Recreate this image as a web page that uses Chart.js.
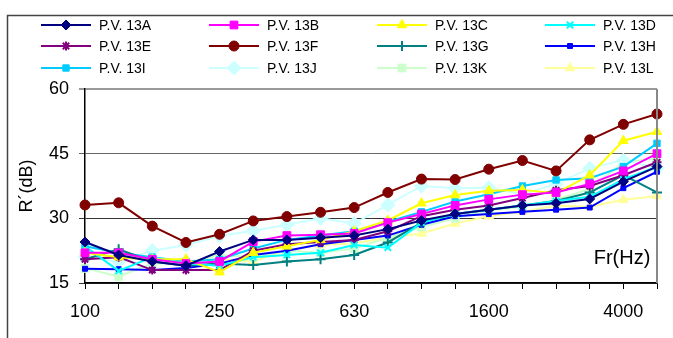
<!DOCTYPE html>
<html>
<head>
<meta charset="utf-8">
<script src="https://cdn.jsdelivr.net/npm/chart.js@4/dist/chart.umd.min.js"></script>
<style>
  html, body { margin: 0; padding: 0; background: #fff; }
  canvas { display: block; }
</style>
</head>
<body>
<canvas id="c" width="673" height="338"></canvas>
<script>
// ---- data ----
const categories = ['100','125','160','200','250','315','400','500','630','800','1000','1250','1600','2000','2500','3150','4000','5000'];
const shownTicks = ['100','250','630','1600','4000'];
const yTicks = [15, 30, 45, 60];
const seriesNames = ['P.V. 13A','P.V. 13B','P.V. 13C','P.V. 13D','P.V. 13E','P.V. 13F','P.V. 13G','P.V. 13H','P.V. 13I','P.V. 13J','P.V. 13K','P.V. 13L'];

const pv13A = [24.5, 21.5, 20.0, 19.0, 22.3, 25.0, 25.0, 25.5, 26.0, 27.5, 29.5, 31.0, 32.0, 33.0, 33.5, 34.5, 38.5, 42.0];
const pv13B = [22.0, 22.0, 20.5, 19.5, 20.0, 24.6, 26.0, 26.2, 26.5, 29.0, 31.0, 33.0, 34.4, 35.5, 36.0, 38.0, 41.0, 45.0];
const pv13C = [22.0, 21.0, 20.5, 20.5, 17.5, 22.0, 23.5, 25.0, 27.0, 29.5, 33.5, 35.4, 36.4, 36.6, 35.8, 40.0, 48.0, 50.1];
const pv13D = [23.5, 17.8, 21.0, 19.5, 19.0, 21.0, 21.5, 22.0, 23.8, 23.2, 29.0, 31.0, 32.0, 33.0, 34.0, 35.0, 39.0, 42.0];
const pv13E = [20.5, 21.0, 18.0, 18.0, 18.0, 22.5, 24.0, 24.5, 25.0, 27.0, 30.5, 32.0, 33.0, 34.7, 36.5, 37.5, 40.0, 43.0];
const pv13F = [33.1, 33.6, 28.2, 24.4, 26.3, 29.4, 30.4, 31.4, 32.5, 36.0, 39.1, 39.0, 41.4, 43.4, 41.0, 48.2, 51.8, 54.2];
const pv13G = [20.5, 22.8, 20.0, 19.0, 19.5, 19.2, 20.0, 20.5, 21.5, 24.4, 29.0, 31.0, 32.0, 33.0, 34.0, 36.0, 40.0, 36.0];
const pv13H = [18.3, 18.2, 18.0, 18.5, 19.5, 21.5, 22.5, 24.0, 25.0, 26.0, 28.5, 30.5, 31.0, 31.5, 32.0, 32.5, 37.0, 40.8];
const pv13I = [23.5, 22.0, 21.0, 20.0, 20.5, 23.0, 25.0, 26.0, 27.0, 29.2, 31.5, 33.9, 35.6, 37.5, 38.9, 39.3, 42.0, 47.4];
const pv13J = [21.0, 20.0, 22.5, 23.8, 25.9, 27.1, 28.5, 30.0, 28.8, 33.1, 37.5, 37.0, 37.1, 35.6, 38.0, 41.6, 43.5, 41.6];
const pv13K = [18.4, 16.5, 19.5, 19.5, 21.5, 21.0, 22.5, 22.0, 23.0, 25.5, 28.0, 30.0, 31.9, 32.7, 34.3, 36.8, 43.0, 43.9];
const pv13L = [22.0, 20.8, 20.5, 20.0, 20.5, 20.0, 22.6, 23.8, 24.2, 25.5, 26.5, 28.8, 30.5, 31.5, 33.0, 32.7, 34.3, 35.2];

const seriesValues = [pv13A, pv13B, pv13C, pv13D, pv13E, pv13F, pv13G, pv13H, pv13I, pv13J, pv13K, pv13L];

// ---- styles ----
const colors = ['#000080','#FF00FF','#FFFF00','#00FFFF','#800080','#800000','#008080','#0000FF','#00CCFF','#CCFFFF','#CCFFCC','#FFFF99'];
const pointStyles = ['rectRot','rect','triangle','crossRot','star','circle','cross','rect','rect','rectRot','rect','triangle'];
const pointRadii = [5, 5.5, 5.5, 4.5, 4.5, 5, 5, 3.5, 4.5, 7, 5.5, 5.5];

const datasets = seriesValues.map((vals, i) => ({
  label: seriesNames[i],
  data: vals,
  borderColor: colors[i],
  backgroundColor: colors[i],
  borderWidth: 2,
  pointStyle: pointStyles[i],
  pointRadius: pointRadii[i],
  pointBorderWidth: (pointStyles[i] === 'crossRot' || pointStyles[i] === 'star' || pointStyles[i] === 'cross') ? 2 : 1,
  pointBorderColor: colors[i],
  pointBackgroundColor: colors[i],
  tension: 0,
  clip: false
}));

const FONT = '"Liberation Sans", Arial, sans-serif';

function drawMarker(ctx, style, r, x, y, color, bw) {
  if (Chart.helpers && Chart.helpers.drawPoint) {
    ctx.save();
    ctx.fillStyle = color; ctx.strokeStyle = color; ctx.lineWidth = bw;
    Chart.helpers.drawPoint(ctx, {pointStyle: style, radius: r, borderWidth: bw, rotation: 0}, x, y);
    ctx.restore();
  }
}

const decorPlugin = {
  id: 'decor',
  beforeDraw(chart) {
    const ctx = chart.ctx;
    ctx.save();
    ctx.fillStyle = '#fff';
    ctx.fillRect(0, 0, chart.width, chart.height);
    ctx.strokeStyle = '#444';
    ctx.lineWidth = 1.5;
    ctx.beginPath();
    ctx.moveTo(7.5, chart.height);
    ctx.lineTo(7.5, 15.5);
    ctx.lineTo(chart.width, 15.5);
    ctx.stroke();
    ctx.restore();
  },
  afterDatasetsDraw(chart) {
    const ctx = chart.ctx;
    const a = chart.chartArea;
    ctx.save();
    ctx.strokeStyle = '#888';
    ctx.lineWidth = 2;
    ctx.beginPath();
    ctx.moveTo(a.right, a.top);
    ctx.lineTo(a.right, a.bottom);
    ctx.stroke();
    ctx.fillStyle = '#000';
    ctx.font = '20px ' + FONT;
    ctx.textAlign = 'center';
    ctx.textBaseline = 'middle';
    ctx.fillText('Fr(Hz)', 622, 258);
    ctx.restore();
  },
  afterDraw(chart) {
    const ctx = chart.ctx;
    const cols = [41, 209, 377, 545];
    const rows = [25, 46, 68];
    ctx.save();
    chart.data.datasets.forEach((ds, i) => {
      const c = i % 4, r = Math.floor(i / 4);
      const x0 = cols[c], y = rows[r];
      ctx.strokeStyle = ds.borderColor;
      ctx.lineWidth = 2;
      ctx.beginPath();
      ctx.moveTo(x0, y);
      ctx.lineTo(x0 + 50, y);
      ctx.stroke();
      drawMarker(ctx, ds.pointStyle, ds.pointRadius, x0 + 25, y, ds.borderColor, ds.pointBorderWidth);
      ctx.fillStyle = '#000';
      ctx.font = '14px ' + FONT;
      ctx.textAlign = 'left';
      ctx.textBaseline = 'middle';
      ctx.fillText(ds.label, x0 + 58, y + 1);
    });
    ctx.restore();
  }
};

new Chart(document.getElementById('c'), {
  type: 'line',
  data: { labels: categories, datasets },
  plugins: [decorPlugin],
  options: {
    responsive: false,
    animation: false,
    devicePixelRatio: 1,
    layout: { padding: { top: 89, right: 16, bottom: 0, left: 0 } },
    plugins: { legend: { display: false }, tooltip: { enabled: false } },
    scales: {
      x: {
        type: 'category',
        offset: false,
        afterFit(s) { s.height = 55; },
        grid: { drawOnChartArea: false, drawTicks: true, tickLength: 6, color: '#000', lineWidth: 1 },
        border: { display: true, color: '#000', width: 1.5 },
        ticks: {
          autoSkip: false, maxRotation: 0, minRotation: 0, padding: 12,
          color: '#000', font: { family: FONT, size: 18 },
          callback(v, i) { return shownTicks.includes(categories[i]) ? categories[i] : ''; }
        }
      },
      y: {
        min: 15, max: 60,
        afterFit(s) { s.width = 85; },
        afterBuildTicks(s) { s.ticks = yTicks.map(v => ({ value: v })); },
        grid: {
          drawTicks: true, tickLength: 6,
          color(ctx) { const v = ctx.tick && ctx.tick.value; return v === 60 ? '#999' : v === 45 ? '#666' : '#333'; },
          lineWidth(ctx) { const v = ctx.tick && ctx.tick.value; return v === 60 ? 2 : 1; }
        },
        border: { display: true, color: '#000', width: 1.5 },
        ticks: { stepSize: 15, padding: 10, color: '#000', font: { family: FONT, size: 18 } },
        title: { display: true, text: 'R´(dB)', color: '#000', font: { family: FONT, size: 18 }, padding: { top: 16, bottom: 0 } }
      }
    }
  }
});
</script>
</body>
</html>
